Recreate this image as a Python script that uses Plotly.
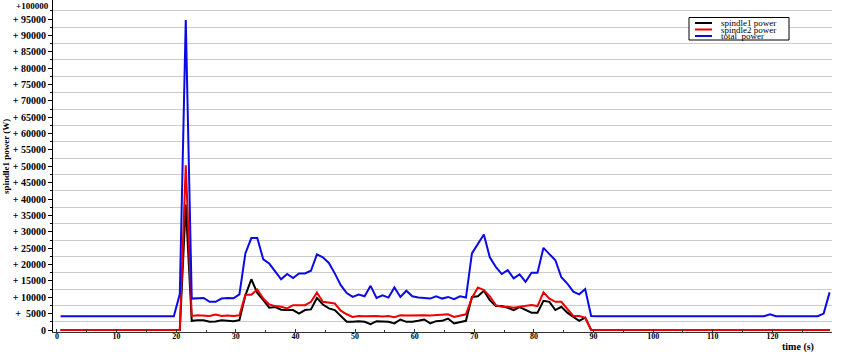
import plotly.graph_objects as go

# ---- data (time in s, power in W) ----
time_s = [i + 0.6 for i in range(130)]

spindle1_power = (
    [0] * 21 +
    [38300, 2800, 3000, 3000, 2500, 2600, 3000, 2800, 2700, 3000,
     10600, 15500, 11300, 9100, 6800, 7000, 6200, 6100, 6100, 5000,
     6100, 6300, 9800, 7800, 6600, 6100, 4300, 2500, 2500, 2700,
     2500, 1800, 2700, 2500, 2500, 2000, 3200, 2500, 2500, 2800,
     3200, 2000, 2700, 2800, 3500, 2000, 2400, 2800, 10100, 10300,
     12000, 9100, 7300, 7300, 6800, 6100, 7000, 6100, 5300, 5300,
     8900, 8600, 6100, 7100, 5300, 4000, 2800, 3800] +
    [0] * 41
)

spindle2_power = (
    [0] * 21 +
    [50300, 4300, 4500, 4500, 4300, 4700, 4300, 4400, 4300, 4500,
     10800, 10800, 12400, 9600, 7800, 7300, 7100, 6600, 7600, 7600,
     7600, 8600, 11400, 8600, 8400, 8100, 5900, 4800, 4000, 4300,
     4200, 4300, 4300, 4100, 4300, 3900, 4500, 4400, 4500, 4400,
     4500, 4400, 4600, 4700, 4800, 4000, 4300, 4800, 9800, 13000,
     12200, 10300, 7600, 7100, 7100, 6800, 7100, 7300, 7600, 7300,
     11500, 9600, 8600, 8600, 6600, 4300, 4300, 3700] +
    [0] * 41
)

total_power = (
    [4200] * 20 +
    [11000, 94700, 9600, 9700, 9800, 8600, 8600, 9600, 9800, 9700,
     10900, 23400, 28100, 28100, 21600, 20300, 17800, 15500, 17100, 15900,
     17300, 17300, 18100, 23100, 22200, 20500, 17300, 13700, 11300, 10100,
     10800, 10300, 13500, 9800, 10600, 9900, 13000, 10100, 12000, 10300,
     9900, 9700, 9600, 10300, 9600, 10100, 9400, 10300, 9900, 23400,
     26300, 29200, 22200, 19300, 17100, 18300, 15800, 17000, 14700, 17500,
     17500, 25100, 23200, 21300, 16100, 14200, 11700, 10900, 12500, 4300] +
    [4200] * 29 + [4800] + [4200] * 8 + [5000, 11500]
)

y_ticks = list(range(0, 100000, 5000))
y_tick_text = ["0" if v == 0 else ("+  " + str(v) if v < 10000 else "+ " + str(v)) for v in y_ticks]
y_grid = list(range(2500, 100000, 5000))
x_ticks = list(range(0, 130, 10))
x_minor = list(range(5, 130, 10))

series_names = ["spindle1 power", "spindle2 power", "total  power"]
series_colors = ["#000000", "#ee0000", "#0a0ae6"]

fig = go.Figure()
for ys, name, col in zip([spindle1_power, spindle2_power, total_power], series_names, series_colors):
    fig.add_trace(go.Scatter(x=time_s, y=ys, mode="lines", name=name,
                             line=dict(color=col, width=2), showlegend=False))

# layout geometry (pixels)
W, H = 843, 354
ML, MR, MT, MB = 53, 11, 0, 22
PW, PH = W - ML - MR, H - MT - MB


def px(xp):
    return (xp - ML) / PW


def py(yp):
    return (H - MB - yp) / PH


serif = "Liberation Serif"

fig.update_layout(
    width=W, height=H,
    margin=dict(l=ML, r=MR, t=MT, b=MB),
    paper_bgcolor="white", plot_bgcolor="white",
    xaxis=dict(range=[-0.67, 130.0], tickvals=x_ticks, ticktext=[str(v) for v in x_ticks],
               showgrid=False, zeroline=False, showline=True, linecolor="#333333", linewidth=1,
               ticks="inside", ticklen=3, tickcolor="#333333", ticklabelstandoff=-4,
               tickfont=dict(family=serif, size=8, color="black", weight="bold"),
               minor=dict(tickvals=x_minor, ticks="inside", ticklen=2, tickcolor="#333333")),
    yaxis=dict(range=[-611, 100830], tickvals=y_ticks, ticktext=y_tick_text,
               showgrid=False, zeroline=False, showline=True, linecolor="black", linewidth=1,
               ticks="outside", ticklen=4, tickcolor="black",
               tickfont=dict(family=serif, size=10, color="black", weight="bold"),
               minor=dict(tickvals=y_grid, ticks="outside", ticklen=2, tickcolor="black",
                          showgrid=True, gridcolor="#cccccc", gridwidth=1)),
)

annotations = [
    dict(text="+100000", xref="paper", yref="paper", x=px(50), y=py(0), xanchor="right", yanchor="top",
         showarrow=False, borderpad=0,
         font=dict(family=serif, size=9, color="black", weight="bold")),
    dict(text="spindle1 power (W)", xref="paper", yref="paper", x=px(6), y=py(157), textangle=-90,
         xanchor="center", yanchor="middle", showarrow=False,
         font=dict(family=serif, size=9, color="black", weight="bold")),
    dict(text="time (s)", xref="paper", yref="paper", x=px(798), y=py(347),
         xanchor="center", yanchor="middle", showarrow=False,
         font=dict(family=serif, size=10, color="black", weight="bold")),
]

shapes = [dict(type="rect", xref="paper", yref="paper", x0=px(689), x1=px(789), y0=py(40), y1=py(17.5),
               line=dict(color="black", width=1), fillcolor="white", layer="above")]
for i, (name, col) in enumerate(zip(series_names, series_colors)):
    yy = 23 + 6.5 * i
    shapes.append(dict(type="line", xref="paper", yref="paper", x0=px(695), x1=px(712), y0=py(yy), y1=py(yy),
                       line=dict(color=col, width=2), layer="above"))
    annotations.append(dict(text=name, xref="paper", yref="paper", x=px(719), y=py(yy),
                            xanchor="left", yanchor="middle", showarrow=False,
                            font=dict(family=serif, size=9, color="black")))

fig.update_layout(shapes=shapes, annotations=annotations)

fig.write_html("out.html")
